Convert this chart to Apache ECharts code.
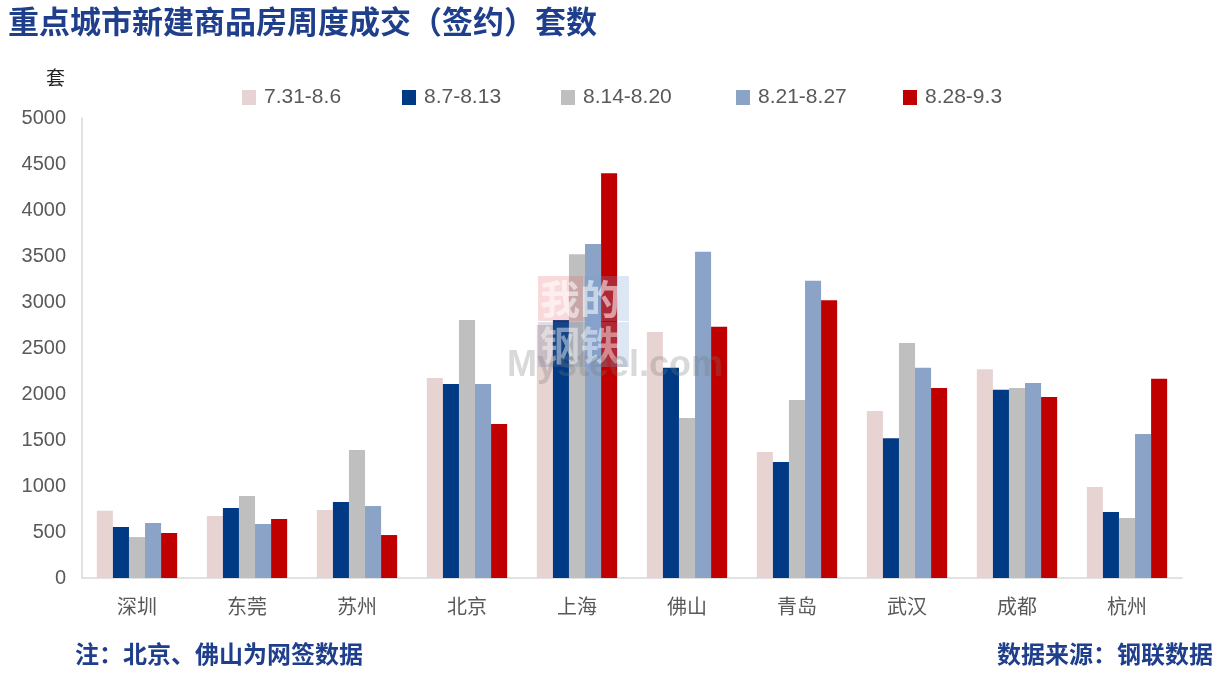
<!DOCTYPE html>
<html>
<head>
<meta charset="utf-8">
<script src="https://cdn.jsdelivr.net/npm/echarts@6/dist/echarts.min.js"></script>
<style>
html,body{margin:0;padding:0;background:#fff;}
#c{width:1217px;height:681px;}
</style>
</head>
<body>
<div id="c"></div>
<script>
const categories = ['深圳','东莞','苏州','北京','上海','佛山','青岛','武汉','成都','杭州'];
const seriesNames = ['7.31-8.6','8.7-8.13','8.14-8.20','8.21-8.27','8.28-9.3'];
const w0731 = [730, 675, 740, 2175, 2750, 2675, 1370, 1815, 2270, 990];
const w0807 = [555, 760, 825, 2110, 2805, 2285, 1260, 1520, 2045, 717];
const w0814 = [445, 890, 1390, 2805, 3520, 1740, 1935, 2555, 2065, 652];
const w0821 = [598, 587, 783, 2110, 3630, 3545, 3230, 2285, 2120, 1565];
const w0828 = [489, 641, 467, 1675, 4400, 2730, 3020, 2065, 1967, 2165];
const yTicks = [0, 500, 1000, 1500, 2000, 2500, 3000, 3500, 4000, 4500, 5000];

const seriesData = [w0731, w0807, w0814, w0821, w0828];
const colors = ['#E8D3D3', '#003A84', '#BFBFBF', '#8BA3C7', '#C00000'];
const legendLefts = [237, 397, 556, 731, 898];

const chart = echarts.init(document.getElementById('c'));
chart.setOption({
  animation: false,
  backgroundColor: '#fff',
  grid: {left: 82, right: 35, top: 118, bottom: 103, containLabel: false},
  legend: seriesNames.map((n, i) => ({
    data: [n], left: legendLefts[i], top: 82,
    itemWidth: 14, itemHeight: 15, itemGap: 0,
    textStyle: {fontSize: 21, color: '#595959', fontFamily: 'Liberation Sans, Arial', padding: [0, 0, 0, 3]},
    icon: 'rect'
  })),
  xAxis: {
    type: 'category', data: categories,
    axisLine: {lineStyle: {color: '#D9D9D9', width: 1.5}},
    axisTick: {show: false},
    axisLabel: {fontSize: 20, color: '#595959', margin: 18, fontFamily: 'Noto Sans CJK SC'}
  },
  yAxis: {
    type: 'value', min: yTicks[0], max: yTicks[yTicks.length - 1], interval: yTicks[1] - yTicks[0],
    axisLine: {show: true, lineStyle: {color: '#D9D9D9', width: 1.5}},
    axisTick: {show: false},
    splitLine: {show: false},
    axisLabel: {fontSize: 20, color: '#595959', margin: 16, fontFamily: 'Liberation Sans, Arial', formatter: v => String(v)}
  },
  series: seriesNames.map((n, i) => ({
    name: n, type: 'bar', data: seriesData[i],
    itemStyle: {color: colors[i]},
    barGap: '0%', barCategoryGap: '27%'
  })),
  graphic: [
    {type: 'text', left: 8, top: 6, style: {text: '重点城市新建商品房周度成交（签约）套数', fontSize: 31, fontWeight: 'bold', fill: '#1F3F8C', fontFamily: 'Noto Sans CJK SC'}},
    {type: 'text', left: 46, top: 68, style: {text: '套', fontSize: 19, fill: '#222', fontFamily: 'Noto Sans CJK SC'}},
    {type: 'text', left: 75, top: 642, style: {text: '注：北京、佛山为网签数据', fontSize: 24, fontWeight: 'bold', fill: '#1F3F8C', fontFamily: 'Noto Sans CJK SC'}},
    {type: 'text', right: 4, top: 642, style: {text: '数据来源：钢联数据', fontSize: 24, fontWeight: 'bold', fill: '#1F3F8C', fontFamily: 'Noto Sans CJK SC'}},
    {type: 'rect', left: 538, top: 276, shape: {width: 45, height: 45}, style: {fill: 'rgba(230,80,90,0.22)'}, z: 100},
    {type: 'rect', left: 584, top: 276, shape: {width: 45, height: 45}, style: {fill: 'rgba(120,160,210,0.25)'}, z: 100},
    {type: 'rect', left: 538, top: 322, shape: {width: 45, height: 45}, style: {fill: 'rgba(90,110,150,0.22)'}, z: 100},
    {type: 'rect', left: 584, top: 322, shape: {width: 45, height: 45}, style: {fill: 'rgba(120,160,210,0.25)'}, z: 100},
    {type: 'text', left: 540, top: 279, style: {text: '我的', fontSize: 40, fontWeight: 'bold', fill: 'rgba(255,255,255,0.55)', fontFamily: 'Noto Sans CJK SC'}, z: 101},
    {type: 'text', left: 540, top: 325, style: {text: '钢铁', fontSize: 40, fontWeight: 'bold', fill: 'rgba(255,255,255,0.45)', fontFamily: 'Noto Sans CJK SC'}, z: 101},
    {type: 'text', left: 507, top: 348, style: {text: 'Mysteel.com', fontSize: 36, fontWeight: 'bold', fill: 'rgba(120,120,120,0.28)', fontFamily: 'Liberation Sans, Arial'}, z: 101}
  ]
});
</script>
</body>
</html>
